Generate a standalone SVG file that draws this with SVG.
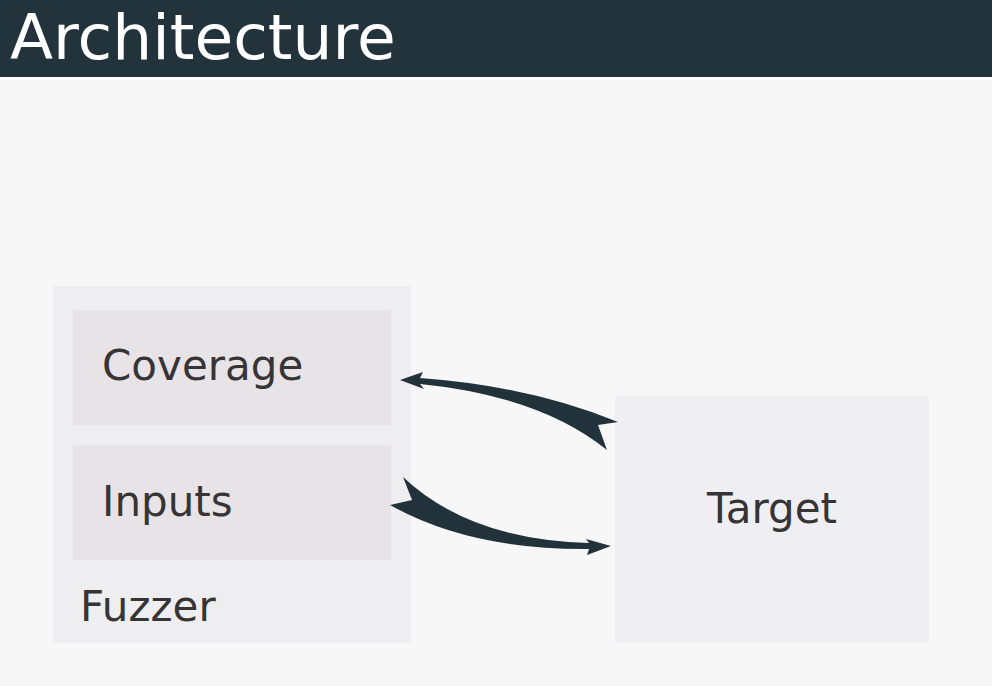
<svg xmlns="http://www.w3.org/2000/svg" width="992" height="686" viewBox="0 0 992 686">
<style>
.lbl{font-family:"DejaVu Sans","Noto Sans",sans-serif;font-size:42px;fill:#373436}
.arrow{fill:#22323b}
</style>
<rect x="0" y="0" width="992" height="686" fill="#f7f7f7"/>
<g id="header">
<rect x="0" y="0" width="992" height="77" fill="#22333c"/>
<rect x="0" y="77" width="992" height="3" fill="#fdfdfd"/>
<text x="10" y="59" font-family="DejaVu Sans, sans-serif" font-size="63" fill="#ffffff">Architecture</text>
</g>
<g id="fuzzer">
<rect x="53" y="286" width="358" height="357" fill="#eeedf0"/>
<text class="lbl" x="80" y="621">Fuzzer</text>
</g>
<g id="coverage">
<rect x="73" y="310" width="318" height="115" fill="#e7e3e6"/>
<text class="lbl" x="102" y="380">Coverage</text>
</g>
<g id="inputs">
<rect x="73" y="445" width="318" height="115" fill="#e7e3e6"/>
<text class="lbl" x="102" y="516">Inputs</text>
</g>
<g id="target">
<rect x="615" y="396" width="314" height="247" fill="#efeef2"/>
<text class="lbl" x="772" y="523" text-anchor="middle">Target</text>
</g>
<g id="connectors">
<path class="arrow" d="M 400,380 L 423,372 L 420,378 Q 530,386 618,422 L 598,425 L 607,450 Q 540,396 420,384 L 424,389 Z"/>
<path class="arrow" d="M 611,546 L 586,539 L 589,543 Q 470,540 403,477 L 412,500 L 390,505 Q 470,550 589,549 L 587,555 Z"/>
</g>
</svg>
